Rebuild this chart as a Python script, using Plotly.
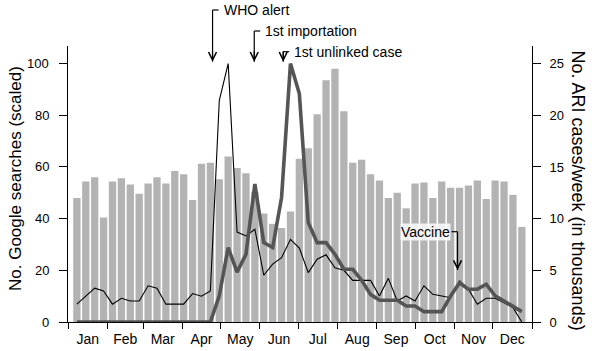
import pandas as pd
import plotly.graph_objects as go

# ---- data -------------------------------------------------------------
week_start = "2009-01-08"          # first weekly point
n_weeks = 51

# ARI cases per week (thousands) - grey bars, right axis
ari_cases = [12.0, 13.6, 14.0, 10.1, 13.6, 13.9, 13.3, 12.4, 13.4, 14.0,
             13.4, 14.6, 14.3, 11.8, 15.3, 15.4, 13.8, 16.0, 14.9, 14.4,
             12.6, 10.5, 9.5, 9.1, 10.7, 15.8, 16.8, 20.1, 23.4, 24.5,
             20.4, 15.4, 15.7, 14.3, 13.7, 12.0, 12.5, 11.0, 13.4, 13.5,
             12.0, 13.6, 13.0, 13.0, 13.2, 13.7, 11.9, 13.7, 13.6, 12.3,
             9.2]

# Google searches (scaled) - thin black line, left axis
searches_thin = [6.9, 10.0, 13.1, 12.0, 6.9, 9.2, 8.1, 8.1, 14.0, 13.1,
                 6.9, 6.9, 6.9, 11.0, 10.0, 12.0, 85.7, 100.0, 34.8, 33.3,
                 35.9, 18.1, 22.4, 24.9, 32.0, 28.6, 19.1, 24.3, 26.0, 21.0,
                 20.0, 16.1, 16.1, 16.1, 10.1, 16.9, 8.1, 10.1, 8.1, 14.0,
                 10.7, 10.1, 9.4, 15.9, 12.7, 6.9, 9.2, 9.2, 7.5, 5.6,
                 0.0]

# Google searches (scaled) - thick dark grey line, left axis
searches_thick = [0, 0, 0, 0, 0, 0, 0, 0, 0, 0,
                  0, 0, 0, 0, 0, 0, 10.1, 28.8, 19.3, 26.2,
                  53.4, 30.7, 28.8, 48.2, 100.0, 88.3, 38.5, 30.7, 30.7, 26.2,
                  20.4, 20.4, 16.1, 10.7, 8.4, 8.4, 8.4, 6.2, 6.2, 4.0,
                  4.0, 4.0, 10.1, 15.2, 12.7, 12.7, 14.6, 10.1, 8.1, 6.2,
                  4.0]

# events: label, date
event_labels = ["WHO alert", "1st importation", "1st unlinked case", "Vaccine"]
event_dates = ["2009-04-24 17:00", "2009-05-27 12:00", "2009-06-19 07:00", "2009-11-03 10:00"]

left_ticks = [0, 20, 40, 60, 80, 100]
right_ticks = [0, 5, 10, 15, 20, 25]

weeks = pd.date_range(week_start, periods=n_weeks, freq="7D")

# ---- figure -----------------------------------------------------------
FONT = "Liberation Sans, Arial, sans-serif"
fig = go.Figure()

fig.add_trace(go.Bar(x=weeks, y=ari_cases, marker_color="#b3b3b3",
                     marker_line_width=0, yaxis="y", showlegend=False))
fig.add_trace(go.Scatter(x=weeks, y=searches_thin, mode="lines",
                         line=dict(color="black", width=1.1),
                         yaxis="y2", showlegend=False))
fig.add_trace(go.Scatter(x=weeks, y=searches_thick, mode="lines",
                         line=dict(color="#555555", width=3.6),
                         yaxis="y2", showlegend=False))

TOP, BOT, H, W, L = 46, 322, 276.0, 464.0, 68
def py(p):
    return (BOT - p) / H

tip_top = py(61.7)
label_rows = [py(10), py(31), py(51.7)]

shapes = []
annotations = []
for lbl, d, yr in zip(event_labels[:3], event_dates[:3], label_rows):
    shapes.append(dict(type="line", xref="x", yref="paper", x0=d, x1=d,
                       y0=tip_top, y1=yr, line=dict(color="black", width=1.2)))
    shapes.append(dict(type="line", xref="x", yref="paper", xsizemode="pixel",
                       xanchor=d, x0=0, x1=6, y0=yr, y1=yr,
                       line=dict(color="black", width=1.2)))
    annotations.append(dict(x=d, y=tip_top, xref="x", yref="paper", text="",
                            showarrow=True, ax=0, ay=-12, arrowhead=5,
                            arrowsize=1.3, arrowwidth=1.2, arrowcolor="black",
                            standoff=0))
    annotations.append(dict(x=d, y=yr, xref="x", yref="paper", text=lbl,
                            showarrow=False, xanchor="left", yanchor="middle",
                            xshift=9, font=dict(size=14, color="black", family=FONT)))

# vaccine
vd = event_dates[3]
vy, vtip = py(231.7), py(270)
shapes.append(dict(type="line", xref="x", yref="paper", x0=vd, x1=vd,
                   y0=vtip, y1=vy, line=dict(color="black", width=1.2)))
shapes.append(dict(type="line", xref="x", yref="paper", xsizemode="pixel",
                   xanchor=vd, x0=-6, x1=0, y0=vy, y1=vy,
                   line=dict(color="black", width=1.2)))
annotations.append(dict(x=vd, y=vtip, xref="x", yref="paper", text="",
                        showarrow=True, ax=0, ay=-12, arrowhead=5,
                        arrowsize=1.3, arrowwidth=1.2, arrowcolor="black",
                        standoff=0))
annotations.append(dict(x=vd, y=vy, xref="x", yref="paper", text=event_labels[3],
                        showarrow=False, xanchor="right", yanchor="middle",
                        xshift=-7, bgcolor="rgba(255,255,255,0.82)", borderpad=0,
                        font=dict(size=14, color="black", family=FONT)))

# left tick labels (placed with a larger gap from the ticks, as in the reference)
for v in left_ticks:
    annotations.append(dict(x=(50.5 - L) / W, y=v, xref="paper", yref="y2",
                            text=str(v), showarrow=False, xanchor="right",
                            yanchor="middle", font=dict(size=13, color="black", family=FONT)))

# axis titles
annotations.append(dict(x=(15 - L) / W, y=py(179), xref="paper", yref="paper",
                        xanchor="center", yanchor="middle",
                        text="No. Google searches (scaled)", textangle=-90,
                        showarrow=False, font=dict(size=17, color="black", family=FONT)))
annotations.append(dict(x=(578 - L) / W, y=py(190.5), xref="paper", yref="paper",
                        xanchor="center", yanchor="middle",
                        text="No. ARI cases/week (in thousands)", textangle=90,
                        showarrow=False, font=dict(size=18, color="black", family=FONT)))

top_val = H / 2.584
fig.update_layout(
    width=600, height=351,
    margin=dict(l=L, r=68, t=TOP, b=351 - BOT, autoexpand=False),
    paper_bgcolor="white", plot_bgcolor="white",
    bargap=0.18,
    font=dict(family=FONT, color="black"),
    xaxis=dict(type="date", range=["2009-01-01", "2010-01-01"],
               tick0="2009-01-01", dtick="M1", tickformat="%b",
               ticklabelmode="period", ticks="outside", ticklen=6,
               tickcolor="black", ticklabelstandoff=-2, automargin=False,
               showline=True, linecolor="black", linewidth=1,
               showgrid=False, zeroline=False,
               tickfont=dict(size=14, color="black")),
    yaxis=dict(side="right", range=[0, top_val / 4], tickvals=right_ticks,
               ticks="outside", ticklen=8, tickcolor="black", automargin=False,
               showline=True, linecolor="black",
               linewidth=1, showgrid=False, zeroline=False,
               ticklabelstandoff=6, tickfont=dict(size=13, color="black")),
    yaxis2=dict(side="left", overlaying="y", range=[0, top_val],
                tickvals=left_ticks, ticks="outside", ticklen=8, automargin=False,
                tickcolor="black", showticklabels=False,
                showline=True, linecolor="black", linewidth=1,
                showgrid=False, zeroline=False),
    shapes=shapes,
    annotations=annotations,
)

fig.write_html("out.html")
